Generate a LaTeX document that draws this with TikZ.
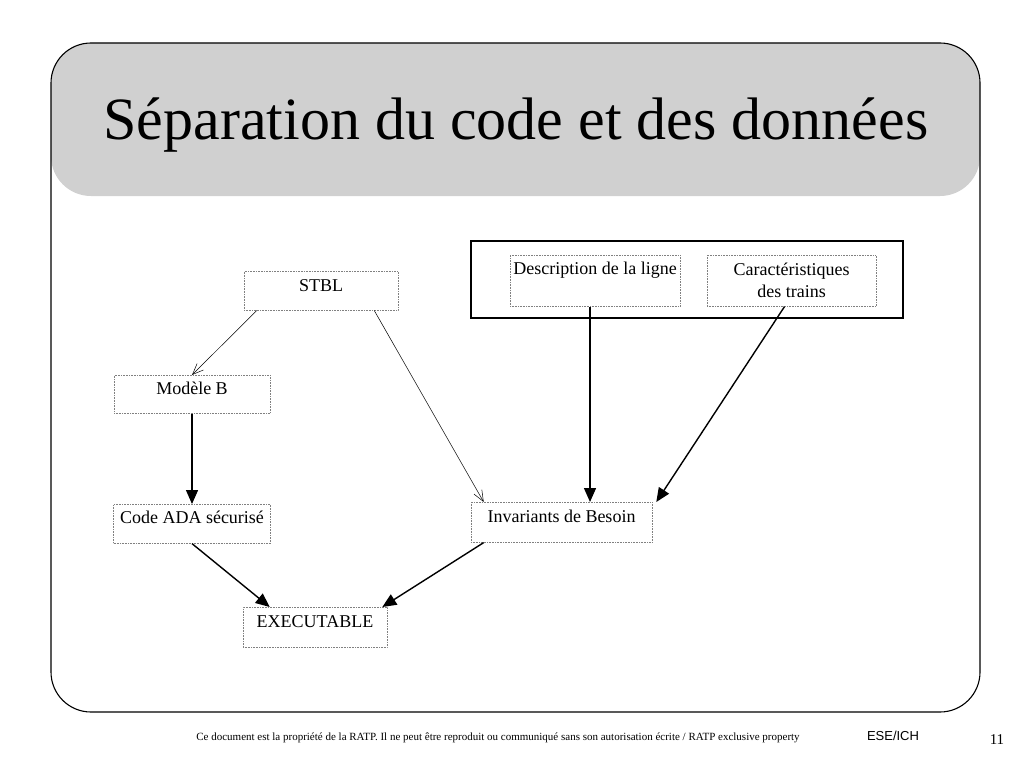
\documentclass[tikz,border=0pt]{standalone}
\usepackage{fontspec}
\setmainfont{Liberation Serif}
\newfontfamily\arialfont{Liberation Sans}
\usetikzlibrary{arrows.meta}

\definecolor{entete}{RGB}{208,208,208}

\begin{document}
\begin{tikzpicture}[x = 1pt, y = -1pt,
	bloc/.style = {draw = gray, densely dotted, line width = 0.6pt, inner xsep = 2pt, inner ysep = 0pt,
		font = \fontsize{18}{22}\selectfont, anchor = north},
	fin/.style = {line width = 0.5pt, -{Straight Barb[length = 11pt, width = 9pt]}},
	gras/.style = {line width = 1.4pt, -{Triangle[length = 14pt, width = 12pt]}}]
	\useasboundingbox (0,0) rectangle (1024,768);

	% cadre et titre
	\fill[entete, rounded corners = 40pt] (51,43) rectangle (980,196);
	\draw[line width = 1.1pt, rounded corners = 40pt] (51,43) rectangle (980,712);
	\node (titre) at (516,125) {\fontsize{60}{66}\selectfont Séparation du code et des données};

	% blocs
	\node[bloc, minimum width = 154pt, text height = 20pt, text depth = 19pt] (stbl) at (321,271) {STBL};
	\node[bloc, minimum width = 156pt, text height = 19pt, text depth = 19pt] (modele) at (192,375) {Modèle B};
	\node[bloc, minimum width = 157pt, text height = 19pt, text depth = 20pt] (code) at (192,504) {Code ADA sécurisé};
	\node[bloc, minimum width = 144pt, text height = 20pt, text depth = 20pt] (exec) at (315,607) {EXECUTABLE};
	\node[bloc, minimum width = 181pt, text height = 20pt, text depth = 20pt] (inv) at (561.5,502) {Invariants de Besoin};
	\node[draw, line width = 1.1pt, minimum width = 432pt, minimum height = 77pt] (donnees) at (687,279.5) {};
	\node[bloc, minimum width = 170pt, text height = 19pt, text depth = 32pt] (desc) at (595,255) {Description de la ligne};
	\node[bloc, minimum width = 169pt, minimum height = 51pt, align = center] (car) at (791.5,255) {Caractéristiques\\des trains};

	% liens
	\draw[fin] ([xshift = 13pt]stbl.south west) -- (modele.north);
	\draw[fin] ([xshift = -24pt]stbl.south east) -- ([xshift = 13pt]inv.north west);
	\draw[gras] (modele.south) -- (code.north);
	\draw[gras] ([xshift = -5pt]desc.south) -- ([xshift = -5pt]desc.south |- inv.north);
	\draw[gras] ([xshift = -7pt]car.south) -- ([xshift = 4pt]inv.north east);
	\draw[gras] (code.south) -- ([xshift = 27pt]exec.north west);
	\draw[gras] ([xshift = 13pt]inv.south west) -- ([xshift = -5pt]exec.north east);

	% pied de page
	\node (note) at (498,738) {\fontsize{11}{12}\selectfont Ce document est la propriété de la RATP. Il ne peut être reproduit ou communiqué sans son autorisation écrite / RATP exclusive property};
	\node (service) at (893,736) {\arialfont\fontsize{13}{14}\selectfont ESE/ICH};
	\node (page) at (997,740) {\fontsize{15}{16}\selectfont 11};
\end{tikzpicture}
\end{document}
